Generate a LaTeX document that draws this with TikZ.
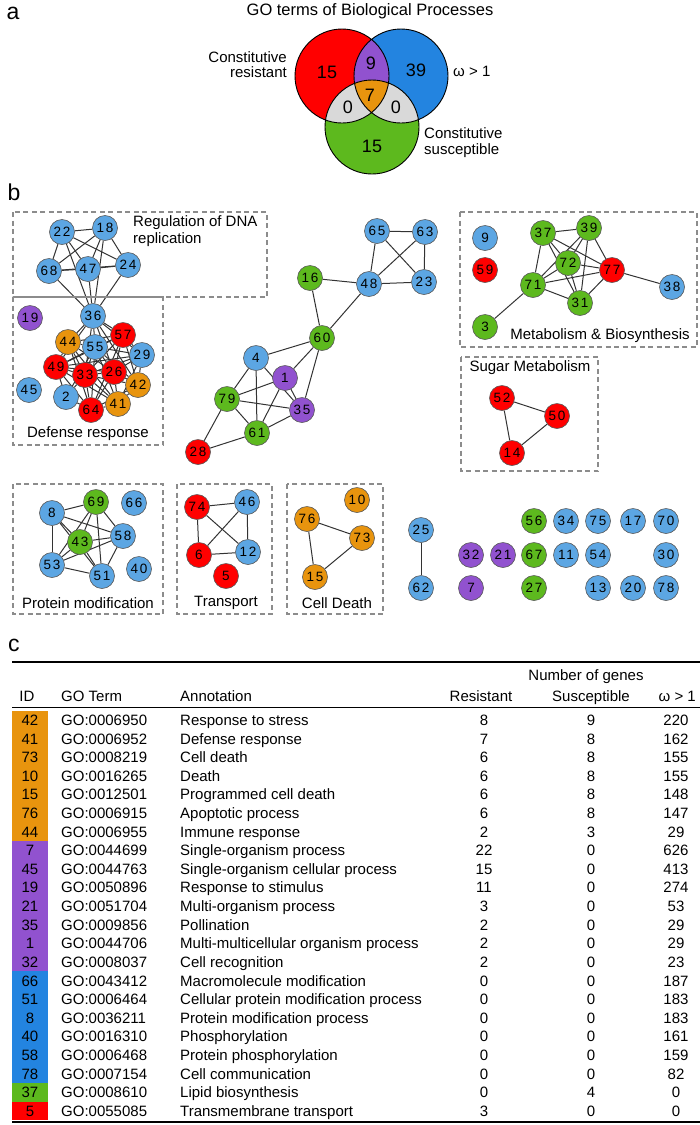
\documentclass[tikz,border=0pt]{standalone}
\usepackage{fontspec}
\setmainfont{Liberation Sans}
\newfontfamily\digitfamily[LetterSpace=12]{Liberation Sans}
\usetikzlibrary{backgrounds}

\definecolor{vred}{HTML}{FF0000}
\definecolor{vblue}{HTML}{2384E0}
\definecolor{vgreen}{HTML}{5DB91E}
\definecolor{vpurple}{HTML}{9152CF}
\definecolor{vorange}{HTML}{E8940E}
\definecolor{vgray}{HTML}{D9D9D9}
\definecolor{nblue}{HTML}{5CA6E3}
\definecolor{boxgray}{HTML}{8C8C8C}

\tikzset{
  gnode/.style={circle,draw=black!65,line width=0.6pt,minimum size=25pt,inner sep=0pt,
    font=\digitfamily\fontsize{13.5}{14}\selectfont},
  link/.style={draw=black!80,line width=1pt},
  groupbox/.style={draw=boxgray,line width=1.2pt,dash pattern=on 5pt off 3.5pt},
  lbl/.style={font=\fontsize{15}{17}\selectfont,inner sep=0pt},
  vnum/.style={font=\fontsize{18}{18}\selectfont,inner sep=0pt},
  tab/.style={font=\fontsize{15}{18}\selectfont,inner sep=0pt},
  panel/.style={font=\fontsize{23}{23}\selectfont,inner sep=0pt},
}

\begin{document}
\begin{tikzpicture}[x=1pt,y=-1pt]
  \useasboundingbox (0,0) rectangle (700,1125);

  % panel a: Venn diagram
  \node[panel] (pa) at (13,13) {a};
  \node[font=\fontsize{16.5}{18}\selectfont,inner sep=0pt] (title) at (370,11) {GO terms of Biological Processes};
  \fill[vred] (342,76) circle[radius=47pt];
  \fill[vblue] (401,76) circle[radius=47pt];
  \fill[vgreen] (372,127) circle[radius=47pt];
  \begin{scope}
    \clip (342,76) circle[radius=47pt];
    \fill[vpurple] (401,76) circle[radius=47pt];
    \fill[vgray] (372,127) circle[radius=47pt];
  \end{scope}
  \begin{scope}
    \clip (401,76) circle[radius=47pt];
    \fill[vgray] (372,127) circle[radius=47pt];
    \clip (342,76) circle[radius=47pt];
    \fill[vorange] (372,127) circle[radius=47pt];
  \end{scope}
  \draw[line width=0.9pt] (342,76) circle[radius=47pt] (401,76) circle[radius=47pt]
    (372,127) circle[radius=47pt];

  \node[vnum] (vres) at (327,72) {15};
  \node[vnum] (vrb) at (371,63) {9};
  \node[vnum] (vom) at (416,70) {39};
  \node[vnum] (vall) at (370,95) {7};
  \node[vnum] (vrs) at (348,107) {0};
  \node[vnum] (vbs) at (396,107) {0};
  \node[vnum] (vsus) at (372,146) {15};
  \node[lbl,align=right,anchor=east,font=\fontsize{15}{15.5}\selectfont] (lres) at (287,64.5) {Constitutive\\resistant};
  \node[lbl,anchor=west] (lom) at (453,71) {ω > 1};
  \node[lbl,align=left,anchor=west,font=\fontsize{15}{16}\selectfont] (lsus) at (424,143) {Constitutive\\susceptible};

  % panel b: network of GO terms
  \node[panel] (pb) at (14,192) {b};
  \draw[groupbox] (13,212) rectangle (267,297);
  \draw[groupbox] (13,297) rectangle (163,445);
  \draw[groupbox] (460,212) rectangle (697,347);
  \draw[groupbox] (461,357) rectangle (598,471);
  \draw[groupbox] (13,484) rectangle (163,614);
  \draw[groupbox] (177,484) rectangle (272,614);
  \draw[groupbox] (287,484) rectangle (383,614);
  \node[lbl,align=left,anchor=west] (lrep) at (133,231.5) {Regulation of DNA\\replication};
  \node[lbl] (ldef) at (88,434) {Defense response};
  \node[lbl] (lmet) at (600,336) {Metabolism \& Biosynthesis};
  \node[lbl] (lsug) at (530,368) {Sugar Metabolism};
  \node[lbl] (lpro) at (88,603) {Protein modification};
  \node[lbl] (ltra) at (226,603) {Transport};
  \node[lbl] (lcel) at (337,603) {Cell Death};

  \foreach \nid/\x/\y in {22/62/232, 18/105/228, 68/49/271, 47/88/269, 24/128/265, 36/93/316,
      55/95/347, 29/142/355, 45/29/390, 2/66/397, 65/377/231, 63/425/232, 48/369/284,
      23/424/282, 4/256/358, 9/485/238, 38/672/287, 8/52/513, 66/134/503, 58/123/536,
      53/52/565, 51/102/576, 40/139/569, 46/247/502, 12/248/552, 25/421/530, 62/421/588,
      34/566/521, 11/566/555, 75/598/521, 54/598/555, 13/598/588, 17/633/521, 20/633/588,
      70/666/521, 30/666/555, 78/666/588}
    \node[gnode,fill=nblue] (n\nid) at (\x,\y) {\nid};
  \foreach \nid/\x/\y in {57/123/335, 49/56/367, 33/85/375, 26/114/372, 64/91/410, 28/198/452,
      59/485/270, 77/612/270, 52/502/398, 50/557/416, 14/512/453, 74/197/507, 6/199/555, 5/226/576}
    \node[gnode,fill=vred] (n\nid) at (\x,\y) {\nid};
  \foreach \nid/\x/\y in {16/310/278, 60/322/338, 79/227/399, 61/257/433, 37/543/233, 39/589/228,
      72/568/263, 71/533/285, 31/580/303, 3/485/327, 69/96/502, 43/80/542, 56/534/521,
      67/534/555, 27/534/588}
    \node[gnode,fill=vgreen] (n\nid) at (\x,\y) {\nid};
  \foreach \nid/\x/\y in {19/30/318, 1/285/378, 35/302/410, 32/471/555, 21/503/555, 7/471/588}
    \node[gnode,fill=vpurple] (n\nid) at (\x,\y) {\nid};
  \foreach \nid/\x/\y in {44/68/342, 42/138/385, 41/118/404, 10/357/500, 76/307/519,
      73/362/538, 15/315/577}
    \node[gnode,fill=vorange] (n\nid) at (\x,\y) {\nid};

  \begin{pgfonlayer}{background}
    \foreach \a/\b in {22/18, 22/68, 22/47, 22/24, 18/68, 18/47, 18/24, 68/47, 68/24, 47/24,
        22/36, 18/36, 68/36, 47/36, 24/36,
        36/44, 36/55, 36/57, 36/29, 36/49, 36/33, 36/26, 36/42,
        44/55, 44/57, 44/49, 44/33, 44/26, 44/64, 44/41,
        55/57, 55/29, 55/49, 55/33, 55/26, 55/42, 55/64, 55/41, 55/2,
        57/29, 57/49, 57/33, 57/26, 57/42, 57/64,
        29/33, 29/26, 29/42, 29/41, 29/49,
        49/33, 49/26, 49/64, 49/41, 49/2,
        33/26, 33/42, 33/64, 33/41, 33/2,
        26/42, 26/64, 26/41, 42/64, 42/41, 64/41, 64/2,
        65/63, 65/48, 65/23, 63/48, 63/23, 48/23, 16/48, 16/60, 48/60,
        60/4, 60/1, 60/35, 4/79, 4/61, 4/35, 1/79, 1/61, 1/35, 79/35, 79/61, 79/28, 61/35, 61/28,
        37/39, 37/72, 37/71, 37/77, 37/31, 39/72, 39/71, 39/31, 39/77, 72/71, 72/77, 72/31,
        71/77, 71/31, 31/77, 77/38, 71/3,
        52/50, 52/14, 50/14,
        8/69, 8/43, 8/58, 8/53, 8/51, 69/43, 69/53, 69/58, 69/51, 43/58, 43/53, 43/51,
        58/53, 58/51, 53/51,
        74/46, 74/6, 74/12, 46/6, 46/12, 6/12,
        76/73, 76/15, 73/15, 25/62}
      \draw[link] (n\a) -- (n\b);
  \end{pgfonlayer}

  % panel c: table
  \node[panel] (pc) at (14,645) {c};
  \draw[line width=1.5pt] (12,662) -- (700,662);
  \draw[line width=1pt] (12,707) -- (700,707);
  \draw[line width=1.5pt] (12,1122) -- (700,1122);
  \node[tab,anchor=base] (hnum) at (586,680.5) {Number of genes};
  \node[tab,anchor=base] (hid) at (27,701.5) {ID};
  \node[tab,anchor=base west] (hgo) at (61,701.5) {GO Term};
  \node[tab,anchor=base west] (hann) at (180,701.5) {Annotation};
  \node[tab,anchor=base] (hres) at (481,701.5) {Resistant};
  \node[tab,anchor=base] (hsus) at (591,701.5) {Susceptible};
  \node[tab,anchor=base east] (hom) at (696,701.5) {ω > 1};

  \foreach \id/\go/\ann/\res/\sus/\om/\c [count=\i from 0] in {
      42/0006950/Response to stress/8/9/220/vorange,
      41/0006952/Defense response/7/8/162/vorange,
      73/0008219/Cell death/6/8/155/vorange,
      10/0016265/Death/6/8/155/vorange,
      15/0012501/Programmed cell death/6/8/148/vorange,
      76/0006915/Apoptotic process/6/8/147/vorange,
      44/0006955/Immune response/2/3/29/vorange,
      7/0044699/Single-organism process/22/0/626/vpurple,
      45/0044763/Single-organism cellular process/15/0/413/vpurple,
      19/0050896/Response to stimulus/11/0/274/vpurple,
      21/0051704/Multi-organism process/3/0/53/vpurple,
      35/0009856/Pollination/2/0/29/vpurple,
      1/0044706/Multi-multicellular organism process/2/0/29/vpurple,
      32/0008037/Cell recognition/2/0/23/vpurple,
      66/0043412/Macromolecule modification/0/0/187/vblue,
      51/0006464/Cellular protein modification process/0/0/183/vblue,
      8/0036211/Protein modification process/0/0/183/vblue,
      40/0016310/Phosphorylation/0/0/161/vblue,
      58/0006468/Protein phosphorylation/0/0/159/vblue,
      78/0007154/Cell communication/0/0/82/vblue,
      37/0008610/Lipid biosynthesis/0/4/0/vgreen,
      5/0055085/Transmembrane transport/3/0/0/vred}
  {
    \fill[\c] (12,{710.7+18.62*\i}) rectangle (48,{729.4+18.62*\i});
    \node[tab,anchor=base] (id\i) at (30,{725.4+18.62*\i}) {\id};
    \node[tab,anchor=base west] (go\i) at (61,{725.4+18.62*\i}) {GO:\go};
    \node[tab,anchor=base west] (ann\i) at (180,{725.4+18.62*\i}) {\ann};
    \node[tab,anchor=base] (res\i) at (484,{725.4+18.62*\i}) {\res};
    \node[tab,anchor=base] (sus\i) at (591,{725.4+18.62*\i}) {\sus};
    \node[tab,anchor=base] (om\i) at (676,{725.4+18.62*\i}) {\om};
  }
\end{tikzpicture}
\end{document}
